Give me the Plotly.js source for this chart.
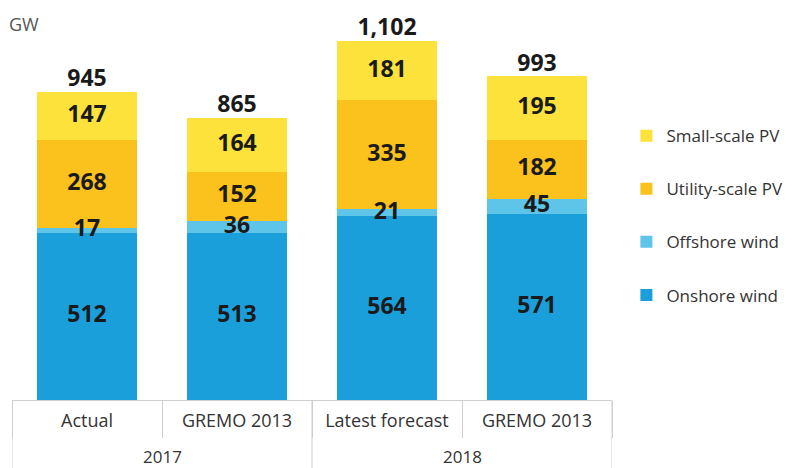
<!DOCTYPE html>
<html>
<head>
<meta charset="utf-8">
<script src="https://cdn.plot.ly/plotly-3.0.1.min.js"></script>
<style>html,body{margin:0;padding:0;background:#fff;}#chart{width:792px;height:468px;}</style>
</head>
<body>
<div id="chart"></div>
<script>
const years = ['2017', '2017', '2018', '2018'];
const scenarios = ['Actual', 'GREMO 2013', 'Latest forecast', 'GREMO 2013'];
const onshore = [512, 513, 564, 571];
const offshore = [17, 36, 21, 45];
const utilityPV = [268, 152, 335, 182];
const smallPV = [147, 164, 181, 195];
const totals = [945, 865, 1102, 993];
const totalLabels = ['945', '865', '1,102', '993'];

const seriesNames = ['Onshore wind', 'Offshore wind', 'Utility-scale PV', 'Small-scale PV'];
const seriesValues = [onshore, offshore, utilityPV, smallPV];
const seriesColors = ['#1a9fdb', '#5ec4e8', '#fbc11c', '#fde23c'];
const legendRanks = [4, 3, 2, 1];

const lineColor = '#cfcfcf';
const xIdx = scenarios.map((_, i) => i);
const traces = [];
const cum = [0, 0, 0, 0];
const labX = [], labY = [], labT = [];
seriesValues.forEach((vals, i) => {
  traces.push({
    type: 'bar', name: seriesNames[i], x: xIdx, y: vals, width: 0.667,
    marker: {color: seriesColors[i], line: {width: 0}},
    legendgroup: 'g' + i, legendrank: legendRanks[i], hoverinfo: 'skip'
  });
  vals.forEach((v, j) => {
    labX.push(j); labY.push(cum[j] + v / 2); labT.push(String(v));
    cum[j] += v;
  });
});
const numFont = {family: 'Open Sans, sans-serif', size: 23, color: '#1a1a1a', weight: 700};
traces.push({
  type: 'scatter', mode: 'text', x: labX, y: labY, text: labT,
  textfont: numFont, showlegend: false, hoverinfo: 'skip', cliponaxis: false
});
traces.push({
  type: 'scatter', mode: 'text', x: xIdx, y: totals, text: totalLabels,
  textposition: 'top center', textfont: numFont,
  showlegend: false, hoverinfo: 'skip', cliponaxis: false
});

// group structure derived from years
const groups = [...new Set(years)];
const groupInfo = groups.map(g => {
  const idx = xIdx.filter(i => years[i] === g);
  return {name: g, first: Math.min(...idx), last: Math.max(...idx)};
});
const plotH = 468 - 9 - 68;
const shapes = [];
const boundaryVals = [];
groupInfo.forEach((g, k) => {
  if (k === 0) boundaryVals.push(g.first - 0.5);
  boundaryVals.push(g.last + 0.5);
});
boundaryVals.forEach(b => shapes.push({
  type: 'line', xref: 'x', yref: 'paper', x0: b, x1: b, y0: 0, y1: -68 / plotH,
  line: {color: lineColor, width: 1}
}));
const annotations = groupInfo.map(g => ({
  text: g.name, xref: 'x', yref: 'paper', x: (g.first + g.last) / 2, y: -56 / plotH,
  xanchor: 'center', yanchor: 'middle', showarrow: false,
  font: {size: 17, color: '#333'}
}));
annotations.push({
  text: 'GW', xref: 'paper', yref: 'paper', x: -0.008, y: 0.962,
  xanchor: 'left', yanchor: 'middle', showarrow: false,
  font: {size: 18, color: '#555'}
});

const layout = {
  width: 792, height: 468,
  margin: {l: 12, r: 180, t: 9, b: 68, autoexpand: false},
  paper_bgcolor: '#fff', plot_bgcolor: '#fff',
  barmode: 'stack',
  font: {family: 'Open Sans, sans-serif', color: '#333'},
  xaxis: {
    range: [-0.5, scenarios.length - 0.5],
    tickmode: 'array', tickvals: xIdx, ticktext: scenarios,
    ticks: '', showline: true, linecolor: lineColor, linewidth: 1,
    tickfont: {size: 18, color: '#333'}, ticklabelstandoff: 4,
    minor: {tickmode: 'linear', tick0: -0.5, dtick: 1, ticks: 'outside',
            ticklen: 37, tickcolor: lineColor, tickwidth: 1, showgrid: false},
    showgrid: false, zeroline: false, fixedrange: true
  },
  yaxis: {range: [0, 1200], visible: false, showgrid: false, fixedrange: true},
  legend: {
    x: 1.024, y: 0.721, xanchor: 'left', yanchor: 'top',
    traceorder: 'grouped', tracegroupgap: 28,
    font: {size: 17, color: '#333'}, itemwidth: 30
  },
  shapes: shapes,
  annotations: annotations
};
Plotly.newPlot('chart', traces, layout, {displayModeBar: false, staticPlot: true});
</script>
</body>
</html>
